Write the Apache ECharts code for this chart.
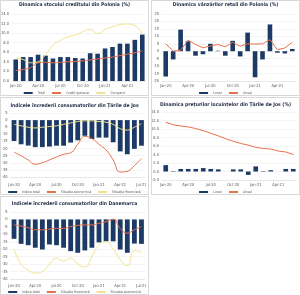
<!DOCTYPE html>
<html>
<head>
<meta charset="utf-8">
<script src="https://cdn.jsdelivr.net/npm/echarts@6/dist/echarts.min.js"></script>
<style>
    html, body { margin: 0; padding: 0; background: #fff; }
    #container { position: relative; width: 300px; height: 295px; }
    .panel { position: absolute; box-sizing: border-box; border: 1px solid #d9d9d9; }
</style>
</head>
<body>
<div id="container">
    <div class="panel" id="c1" style="left:0;top:0;width:149px;height:96px"></div>
    <div class="panel" id="c2" style="left:151px;top:0;width:149px;height:96px"></div>
    <div class="panel" id="c3" style="left:0;top:97px;width:149px;height:98px"></div>
    <div class="panel" id="c4" style="left:151px;top:97px;width:149px;height:98px"></div>
    <div class="panel" id="c5" style="left:0;top:196px;width:149px;height:99px"></div>
</div>
<script>
// luni
var months18 = ['Jan-20', 'Feb-20', 'Mar-20', 'Apr-20', 'May-20', 'Jun-20', 'Jul-20', 'Aug-20', 'Sep-20',
    'Oct-20', 'Nov-20', 'Dec-20', 'Jan-21', 'Feb-21', 'Mar-21', 'Apr-21', 'May-21', 'Jun-21'];
var months19 = months18.concat(['Jul-21']);

// credit Polonia
var creditTotal = [4.5, 5.0, 5.0, 5.5, 5.3, 4.7, 5.0, 5.0, 4.8, 4.7, 5.8, 5.7, 6.8, 7.1, 7.8, 7.8, 8.6, 9.7];
var creditIpotecar = [2.2, 2.4, 2.8, 3.8, 3.9, 3.8, 3.9, 4.0, 4.1, 4.2, 4.4, 4.6, 4.8, 5.0, 5.3, 5.6, 5.9, 6.3];
var creditCompanii = [4.8, 4.5, 3.8, 4.0, 5.5, 7.5, 8.5, 9.2, 9.6, 10.3, 10.8, 9.9, 10.8, 11.3, 11.8, 11.9, 11.6, 9.8];

// retail Polonia
var retailLunar = [-17, -5.5, 14.5, 6.7, -3, -2, 5, 0.3, -3, 7, -3.5, 12.5, -17.5, -5.5, 18, -1, -1.5, 1.5];
var retailAnual = [5, 0.2, 0.5, 7.5, 4.5, 2.3, 3.5, 4.5, 3, 6, 3.3, 5, 4.8, 5, 7.8, 1, 2.2, 6];

// incredere Tarile de Jos
var nlTotal = [-14.7, -17, -17.9, -19, -19, -18.6, -18, -18, -15.8, -14.2, -11, -13.3, -12.3, -12.3, -15.6, -22, -24, -20.2, -18];
var nlEconomica = [-22.6, -25, -28, -31, -30, -28, -26, -24, -23, -17, -11.5, -13, -17, -21, -28, -36.5, -36, -32, -27];
var nlFinanciara = [-3, -4, -5, -5.5, -5, -4.5, -4, -3, -2, -1, -0.5, -0.5, -1, -1.5, -3, -6, -7, -5, -2.5];

// preturi locuinte Tarile de Jos
var caseLunar = [1.5, 0.1, 0.6, 0.6, 0.6, 0.8, 0.6, 0.5, 0, 0.5, 0.5, -0.8, 1.2, 0.1, 0.3, 0, 0.6, 0.6];
var caseAnual = [11.6, 11.0, 10.7, 10.5, 10.1, 9.6, 9.0, 8.4, 7.7, 7.1, 6.6, 6.2, 5.7, 5.4, 5.3, 4.8, 4.6, 4.0];

// incredere Danemarca
var dkTotal = [-13, -16.4, -17.3, -19, -20.2, -16.8, -17.3, -19, -21.3, -22.4, -20.8, -19, -15.4, -14.7, -14.7, -20.2, -22.4, -16.2, -16.4];
var dkFinanciara = [-3.7, -4.4, -5.5, -7, -7, -6.5, -6, -6, -4.8, -4, -3.7, -3.7, -2.6, -1.5, 0.2, -6, -9.2, -7, -4.8];
var dkEconomica = [-20, -30, -34, -36, -35, -30, -26, -28, -26, -30, -32, -25, -17, -15, -20, -27, -31, -21, -22];

;
ChartsModule = (function (echarts) {
    var BLUE = '#1b3a66';
    var RED = '#e8704a';
    var YELLOW = '#f1e38f';
    var FONT = '"Liberation Sans Narrow", "DejaVu Sans Condensed", "Liberation Sans", sans-serif';

    // optiuni comune pentru un panou
    function baseOption(cfg) {
        var grid = cfg.grid;
        grid.containLabel = false;
        grid.outerBoundsMode = 'none';
        return {
            animation: false,
            title: {
                text: cfg.title,
                left: 'center',
                top: cfg.titleTop,
                padding: [0, 0, 0, cfg.titleShift],
                textStyle: { fontSize: 5, fontWeight: 'bold', color: '#1f2a44', fontFamily: FONT }
            },
            legend: {
                bottom: cfg.legendBottom,
                padding: 0,
                itemWidth: 9,
                itemHeight: 2,
                itemGap: 7,
                icon: 'rect',
                textStyle: { fontSize: 3.5, color: '#595959', fontFamily: FONT },
                data: cfg.legend
            },
            grid: grid,
            xAxis: {
                type: 'category',
                data: cfg.months,
                axisLine: { onZero: false, lineStyle: { color: '#d9d9d9', width: 0.5 } },
                axisTick: { show: false },
                axisLabel: { interval: 2, fontSize: 4, color: '#595959', margin: cfg.labelMargin, fontFamily: FONT }
            },
            yAxis: {
                type: 'value',
                min: cfg.min,
                max: cfg.max,
                interval: cfg.interval,
                axisLabel: {
                    fontSize: 4, color: '#595959', margin: 3, fontFamily: FONT,
                    showMinLabel: true, showMaxLabel: true, hideOverlap: false,
                    formatter: function (v) { return cfg.decimals ? v.toFixed(1) : String(v); }
                },
                splitLine: { lineStyle: { color: '#e8e8e8', width: 0.5 } }
            },
            series: cfg.series
        };
    }

    function bar(name, data, width) {
        return { name: name, type: 'bar', data: data, barWidth: width, itemStyle: { color: BLUE } };
    }

    function line(name, data, color, smooth) {
        return {
            name: name, type: 'line', data: data, smooth: smooth, showSymbol: false,
            lineStyle: { color: color, width: 1 }, itemStyle: { color: color }
        };
    }

    function render(id, option) {
        var chart = echarts.init(document.getElementById(id), null, { renderer: 'canvas' });
        chart.setOption(option);
    }

    return {
        init: function () {
            render('c1', baseOption({
                title: 'Dinamica stocului creditului din Polonia (%)',
                titleTop: 1, titleShift: 16, legendBottom: 0,
                legend: ['Total', 'Credit ipotecar', 'Companii'],
                grid: { left: 11, right: 2, top: 13, bottom: 14 },
                months: months18, labelMargin: 3,
                min: 0, max: 14, interval: 2, decimals: true,
                series: [
                    bar('Total', creditTotal, '62%'),
                    line('Credit ipotecar', creditIpotecar, RED, true),
                    line('Companii', creditCompanii, YELLOW, true)
                ]
            }));
            render('c2', baseOption({
                title: 'Dinamica vânzărilor retail din Polonia (%)',
                titleTop: 1, titleShift: 12, legendBottom: 0,
                legend: ['Lunar', 'Anual'],
                grid: { left: 10, right: 3, top: 13, bottom: 14 },
                months: months18, labelMargin: 3,
                min: -20, max: 25, interval: 5, decimals: false,
                series: [
                    bar('Lunar', retailLunar, '62%'),
                    line('Anual', retailAnual, RED, false)
                ]
            }));
            render('c3', baseOption({
                title: 'Indicele încrederii consumatorilor din Țările de Jos',
                titleTop: 5, titleShift: 18, legendBottom: 0,
                legend: ['Indice total', 'Situația economică', 'Situația financiară'],
                grid: { left: 9.5, right: 3, top: 15, bottom: 17 },
                months: months19, labelMargin: 6,
                min: -40, max: 5, interval: 5, decimals: false,
                series: [
                    bar('Indice total', nlTotal, '68%'),
                    line('Situația economică', nlEconomica, RED, true),
                    line('Situația financiară', nlFinanciara, YELLOW, true)
                ]
            }));
            render('c4', baseOption({
                title: 'Dinamica prețurilor locuințelor din Țările de Jos (%)',
                titleTop: 4, titleShift: 12, legendBottom: 0,
                legend: ['Lunar', 'Anual'],
                grid: { left: 10, right: 2, top: 14, bottom: 14 },
                months: months18, labelMargin: 3,
                min: -2, max: 14, interval: 2, decimals: true,
                series: [
                    bar('Lunar', caseLunar, '62%'),
                    line('Anual', caseAnual, RED, false)
                ]
            }));
            render('c5', baseOption({
                title: 'Indicele încrederii consumatorilor din Danemarca',
                titleTop: 4, titleShift: 11, legendBottom: 0,
                legend: ['Indice total', 'Situația financiară', 'Situația economică'],
                grid: { left: 9.5, right: 3, top: 15, bottom: 15 },
                months: months19, labelMargin: 5,
                min: -40, max: 5, interval: 5, decimals: false,
                series: [
                    bar('Indice total', dkTotal, '68%'),
                    line('Situația financiară', dkFinanciara, RED, true),
                    line('Situația economică', dkEconomica, YELLOW, true)
                ]
            }));
        }
    };
})(echarts);
ChartsModule.init();
</script>
</body>
</html>
